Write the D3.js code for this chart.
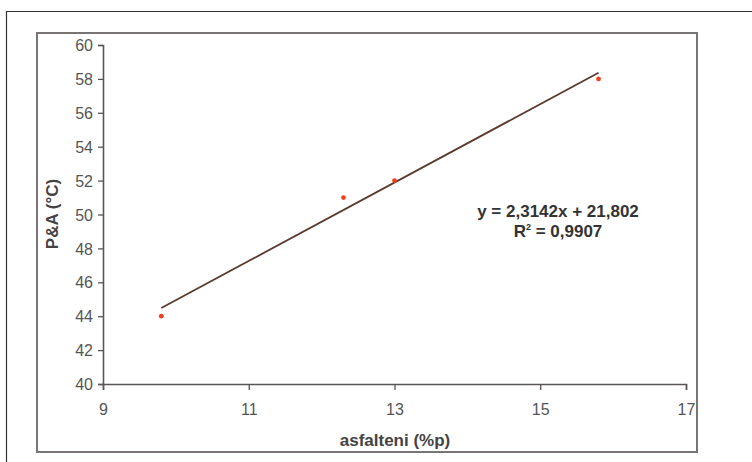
<!DOCTYPE html>
<html><head><meta charset="utf-8">
<script src="https://cdn.jsdelivr.net/npm/d3@7"></script>
<style>body{margin:0;background:#fff}svg{display:block}</style>
</head><body>
<script>
const xValues = [9.8, 12.3, 13, 15.8];
const yValues = [44, 51, 52, 58];
const xTicks = [9, 11, 13, 15, 17];
const yTicks = [40, 42, 44, 46, 48, 50, 52, 54, 56, 58, 60];
const slope = 2.3142, intercept = 21.802;
const eqLabel = "y = 2,3142x + 21,802";
const r2Label = "0,9907";
const xTitle = "asfalteni (%p)";
const yTitle = "P&A (°C)";

const W = 752, H = 462;
const svg = d3.select("body").append("svg").attr("width", W).attr("height", H);
svg.append("rect").attr("width", W).attr("height", H).attr("fill", "#fff");

// outer frame
svg.append("path").attr("d", `M6.5,${H} V11.5 H${W}`).attr("fill","none").attr("stroke","#333").attr("stroke-width",1.2);
// inner chart box
svg.append("rect").attr("x",37).attr("y",33).attr("width",660).attr("height",419)
  .attr("fill","#fff").attr("stroke","#7a7575").attr("stroke-width",2);

const x = d3.scaleLinear().domain([9, 17]).range([103, 686]);
const y = d3.scaleLinear().domain([40, 60]).range([384, 45]);
const fmt = d => String(d);
const font = "Liberation Sans, Arial, sans-serif";

const gx = svg.append("g").attr("transform","translate(0,384)")
  .call(d3.axisBottom(x).tickValues(xTicks).tickSize(6).tickSizeOuter(6).tickFormat(fmt));
const gy = svg.append("g").attr("transform","translate(103,0)")
  .call(d3.axisLeft(y).tickValues(yTicks).tickSize(5).tickSizeOuter(5).tickFormat(fmt));
[gx, gy].forEach(g => {
  g.select(".domain").attr("stroke","#5a5555").attr("stroke-width",1.6);
  g.selectAll(".tick line").attr("stroke","#5a5555").attr("stroke-width",1.3);
  g.selectAll(".tick text").attr("fill","#555").style("font-family",font).style("font-size","16px");
});
gx.selectAll(".tick text").attr("dy","1.35em");
gy.selectAll(".tick text").attr("x",-10).attr("dy","0.35em");

// trendline
const xs = d3.extent(xValues);
svg.append("line")
  .attr("x1", x(xs[0])).attr("y1", y(slope*xs[0]+intercept))
  .attr("x2", x(xs[1])).attr("y2", y(slope*xs[1]+intercept))
  .attr("stroke","#5b3a2e").attr("stroke-width",1.8);

// points
svg.selectAll("circle.pt").data(xValues.map((v,i)=>[v,yValues[i]])).enter()
  .append("circle").attr("class","pt")
  .attr("cx", d=>x(d[0])).attr("cy", d=>y(d[1])).attr("r",2.4).attr("fill","#f2401e");

svg.append("text").attr("x",558).attr("y",217).attr("text-anchor","middle")
  .style("font-family",font).style("font-size","17px").style("font-weight","bold").attr("fill","#333").text(eqLabel);
const r2 = svg.append("text").attr("x",558).attr("y",237).attr("text-anchor","middle")
  .style("font-family",font).style("font-size","17px").style("font-weight","bold").attr("fill","#333");
r2.append("tspan").text("R");
r2.append("tspan").attr("dy",-7).style("font-size","9px").text("2");
r2.append("tspan").attr("dy",7).text(" = " + r2Label);

svg.append("text").attr("x",395).attr("y",446).attr("text-anchor","middle")
  .style("font-family",font).style("font-size","17px").style("font-weight","bold").attr("fill","#444").text(xTitle);
svg.append("text").attr("transform","translate(58,214) rotate(-90)").attr("text-anchor","middle")
  .style("font-family",font).style("font-size","17px").style("font-weight","bold").attr("fill","#444").text(yTitle);
</script>
</body></html>
